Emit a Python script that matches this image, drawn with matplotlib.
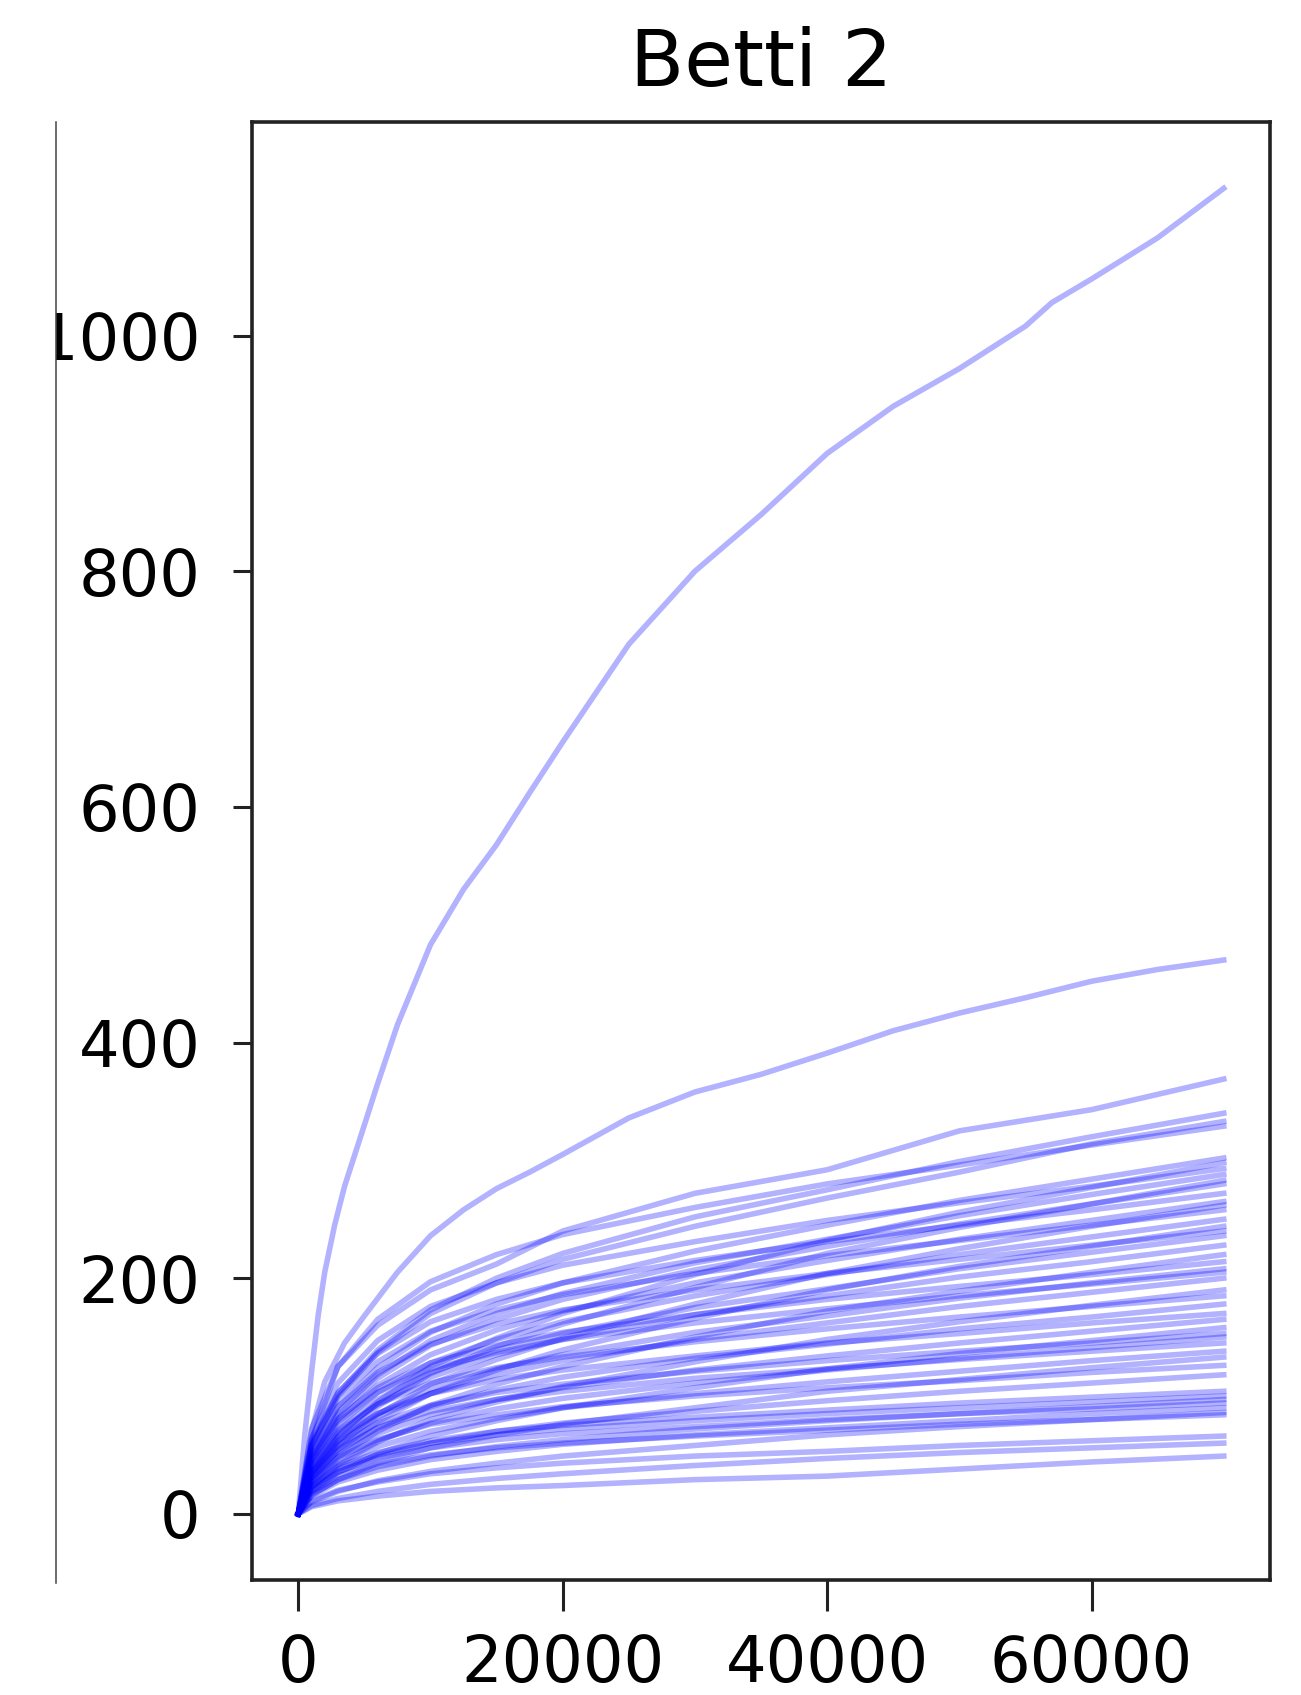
import matplotlib
matplotlib.use("Agg")
import matplotlib.pyplot as plt
from matplotlib.lines import Line2D
from matplotlib.patches import Rectangle

title = "Betti 2"

# the two curves that stand out above the bundle
top_x = [0, 500, 1000, 1500, 2000, 2750, 3500, 5000, 6000, 7500, 10000, 12500, 15000, 17500, 20000,
         25000, 30000, 35000, 40000, 45000, 50000, 55000, 57000, 60000, 65000, 70000]
top_y = [0, 68, 120, 168, 205, 245, 278, 330, 365, 415, 483, 530, 568, 612, 655,
         738, 800, 848, 900, 940, 972, 1008, 1028, 1048, 1083, 1125]

second_x = [0, 1000, 2000, 3500, 5000, 7500, 10000, 12500, 15000, 17500, 20000,
            25000, 30000, 35000, 40000, 45000, 50000, 55000, 60000, 65000, 70000]
second_y = [0, 70, 112, 145, 168, 205, 236, 258, 276, 290, 305,
            336, 358, 373, 391, 410, 425, 438, 452, 462, 470]

# shared x positions for the bundle
steps = [0, 1000, 3000, 6000, 10000, 15000, 20000, 30000, 40000, 50000, 60000, 70000]

upper_curves = [
    [0, 62, 125, 160, 190, 212, 240, 272, 292, 325, 343, 369],
    [0, 58, 102, 139, 173, 200, 221, 252, 275, 299, 320, 340],
    [0, 57, 100, 137, 170, 196, 216, 244, 268, 290, 314, 333],
    [0, 72, 125, 165, 197, 220, 237, 260, 280, 296, 313, 329],
    [0, 51, 91, 124, 154, 178, 196, 223, 245, 266, 284, 302],
    [0, 36, 66, 95, 125, 149, 170, 203, 232, 256, 277, 298],
    [0, 64, 111, 147, 176, 196, 211, 231, 249, 264, 278, 293],
    [0, 49, 86, 118, 147, 170, 187, 213, 233, 253, 271, 288],
    [0, 34, 62, 91, 119, 142, 161, 192, 221, 243, 263, 283],
    [0, 48, 84, 115, 143, 165, 182, 207, 227, 246, 263, 280],
    [0, 60, 103, 136, 163, 182, 196, 215, 231, 245, 258, 272],
    [0, 45, 80, 109, 135, 156, 172, 196, 215, 233, 249, 265],
    [0, 31, 58, 84, 110, 131, 149, 178, 204, 225, 244, 262],
    [0, 57, 98, 129, 155, 173, 186, 204, 219, 232, 245, 258],
    [0, 43, 75, 103, 128, 148, 163, 185, 203, 220, 235, 250],
]

middle_curves = [
    [0, 29, 54, 78, 102, 122, 139, 166, 190, 210, 227, 244],
    [0, 53, 91, 120, 144, 161, 173, 190, 204, 216, 228, 240],
    [0, 40, 71, 97, 120, 139, 153, 175, 191, 208, 222, 236],
    [0, 39, 68, 93, 116, 135, 148, 169, 185, 201, 214, 228],
    [0, 26, 48, 70, 92, 110, 125, 150, 172, 189, 205, 220],
    [0, 47, 81, 107, 128, 143, 154, 169, 182, 193, 203, 214],
    [0, 35, 62, 85, 106, 123, 135, 154, 168, 183, 196, 208],
    [0, 45, 78, 103, 123, 137, 148, 162, 174, 185, 195, 205],
    [0, 34, 60, 82, 102, 118, 130, 148, 162, 176, 188, 200],
    [0, 23, 42, 61, 80, 95, 108, 129, 148, 163, 177, 190],
    [0, 41, 70, 93, 111, 124, 133, 146, 157, 167, 176, 185],
    [0, 30, 53, 73, 91, 105, 116, 132, 144, 157, 167, 178],
    [0, 37, 65, 85, 102, 114, 122, 134, 145, 153, 162, 170],
    [0, 28, 50, 68, 84, 97, 107, 122, 134, 145, 155, 165],
    [0, 19, 35, 51, 66, 79, 90, 107, 123, 136, 147, 158],
    [0, 34, 58, 77, 92, 103, 110, 121, 130, 138, 145, 153],
    [0, 26, 45, 62, 77, 89, 98, 111, 122, 132, 141, 150],
    [0, 32, 55, 73, 87, 97, 104, 115, 123, 131, 138, 145],
]

lower_curves = [
    [0, 23, 41, 57, 70, 81, 90, 102, 112, 121, 130, 138],
    [0, 16, 29, 43, 56, 67, 76, 90, 104, 114, 124, 133],
    [0, 28, 48, 63, 76, 84, 91, 100, 107, 113, 120, 126],
    [0, 20, 35, 48, 60, 70, 77, 87, 96, 104, 111, 118],
    [0, 23, 40, 52, 62, 70, 75, 82, 88, 94, 99, 104],
    [0, 22, 38, 50, 60, 67, 72, 79, 85, 90, 95, 100],
    [0, 16, 29, 40, 49, 57, 63, 72, 79, 85, 91, 97],
    [0, 21, 36, 47, 56, 63, 68, 74, 80, 85, 89, 94],
    [0, 15, 27, 37, 46, 53, 59, 67, 73, 79, 85, 90],
    [0, 10, 19, 28, 36, 43, 49, 58, 67, 74, 80, 86],
    [0, 18, 32, 42, 50, 56, 60, 66, 71, 76, 80, 84],
    [0, 11, 20, 27, 34, 39, 43, 49, 53, 58, 62, 66],
    [0, 7, 13, 19, 25, 30, 34, 41, 47, 52, 56, 60],
    [0, 6, 11, 15, 19, 22, 24, 29, 32, 38, 44, 49],
]

fig = plt.figure(figsize=(13.01, 16.95), dpi=100)
ax = fig.add_axes([0.1937, 0.0678, 0.7825, 0.8602])

line_kw = dict(color="blue", alpha=0.3, lw=4)
ax.plot(top_x, top_y, **line_kw)
ax.plot(second_x, second_y, **line_kw)
for group in (upper_curves, middle_curves, lower_curves):
    for ys in group:
        ax.plot(steps, ys, **line_kw)

ax.set_title(title, fontsize=57, pad=26)
ax.tick_params(axis="both", labelsize=46, width=2.2, color="#222222")
ax.tick_params(axis="y", length=14, pad=23)
ax.tick_params(axis="x", length=22, pad=16)
for s in ax.spines.values():
    s.set_linewidth(2.6)
    s.set_color("#222222")

# edge of the neighbouring panel that the crop cuts through
fig.add_artist(Rectangle((0, 0), 56 / 1301, 1, transform=fig.transFigure,
                         facecolor="white", edgecolor="none", zorder=5))
fig.add_artist(Line2D([56 / 1301, 56 / 1301], [0.066, 0.928],
                      transform=fig.transFigure, color="#444444", lw=1.1, zorder=6))

fig.savefig("out.png", dpi=100)
